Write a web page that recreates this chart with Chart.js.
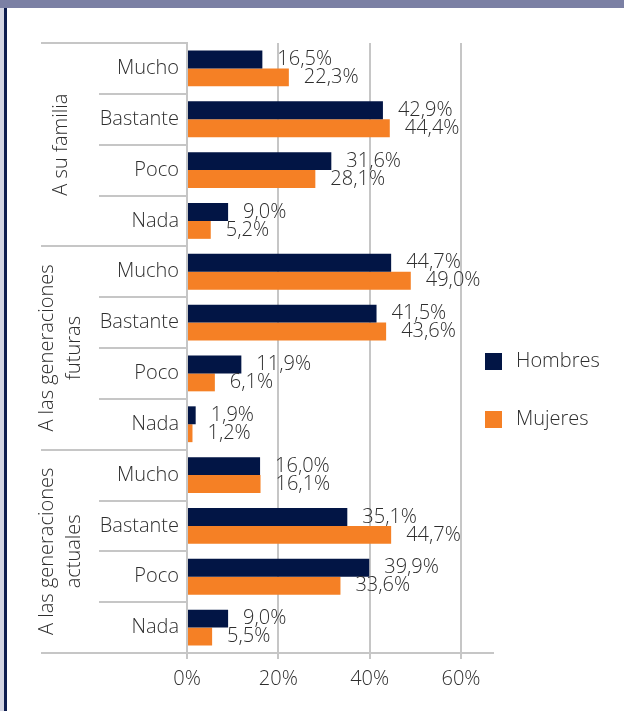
<!DOCTYPE html>
<html>
<head>
<meta charset="utf-8">
<script src="https://cdn.jsdelivr.net/npm/chart.js@4/dist/chart.umd.min.js"></script>
<style>
html,body{margin:0;padding:0;background:#ffffff;overflow:hidden;}
#wrap{position:absolute;left:0;top:0;width:624px;height:711px;}
</style>
</head>
<body>
<div id="wrap"><canvas id="c"></canvas></div>
<script>
// ---- data ----
const groups = [['A su familia'], ['A las generaciones', 'futuras'], ['A las generaciones', 'actuales']];
const levels = ['Mucho', 'Bastante', 'Poco', 'Nada'];
const categories = ['Mucho','Bastante','Poco','Nada','Mucho','Bastante','Poco','Nada','Mucho','Bastante','Poco','Nada'];
const hombres = [16.5, 42.9, 31.6, 9.0, 44.7, 41.5, 11.9, 1.9, 16.0, 35.1, 39.9, 9.0];
const mujeres = [22.3, 44.4, 28.1, 5.2, 49.0, 43.6, 6.1, 1.2, 16.1, 44.7, 33.6, 5.5];
const seriesNames = ['Hombres', 'Mujeres'];
const xTickValues = [0, 20, 40, 60];

const NAVY = '#021545';
const ORANGE = '#F58025';
const GRID = '#c6c6c6';
const TEXT = '#2e2e2e';
const FONT = '"Open Sans", "DejaVu Sans", sans-serif';
const WEIGHT = '300';

const fmt = v => v.toFixed(1).replace('.', ',') + '%';

const decoPlugin = {
  id: 'deco',
  beforeDraw(chart) {
    const ctx = chart.ctx;
    ctx.save();
    ctx.fillStyle = '#ffffff';
    ctx.fillRect(0, 0, chart.width, chart.height);
    ctx.fillStyle = '#d2d4e2';
    ctx.fillRect(0, 0, 4, chart.height);
    ctx.fillStyle = '#0d1c4e';
    ctx.fillRect(4, 0, 3, chart.height);
    ctx.fillStyle = '#7b80a4';
    ctx.fillRect(0, 0, chart.width, 8);
    ctx.restore();
  },
  afterDraw(chart) {
    const ctx = chart.ctx;
    const ys = chart.scales.y;
    const ca = chart.chartArea;
    const n = categories.length;
    const rowH = (ys.bottom - ys.top) / n;
    ctx.save();
    ctx.strokeStyle = GRID;
    ctx.lineWidth = 2;
    for (let i = 0; i <= n; i++) {
      const y = Math.round(ys.top + i * rowH);
      const x0 = (i % levels.length === 0) ? 41 : 99;
      ctx.beginPath();
      ctx.moveTo(x0, y);
      ctx.lineTo(ca.left, y);
      ctx.stroke();
    }
    // group labels
    ctx.fillStyle = TEXT;
    ctx.font = WEIGHT + ' 20px ' + FONT;
    ctx.textAlign = 'center';
    ctx.textBaseline = 'middle';
    groups.forEach((lines, g) => {
      const cy = ys.top + (g * levels.length + levels.length / 2) * rowH;
      const lh = 27;
      const cx0 = 61 - (lines.length - 1) * lh / 2;
      lines.forEach((t, k) => {
        ctx.save();
        ctx.translate(cx0 + k * lh, cy);
        ctx.rotate(-Math.PI / 2);
        ctx.fillText(t, 0, 0);
        ctx.restore();
      });
    });
    // legend
    chart.data.datasets.forEach((ds, i) => {
      const cy = 361.5 + i * 58;
      ctx.fillStyle = ds.backgroundColor;
      ctx.fillRect(485, cy - 8.5, 17, 17);
      ctx.fillStyle = TEXT;
      ctx.textAlign = 'left';
      ctx.fillText(ds.label, 516, cy);
    });
    ctx.restore();
  },
  afterDatasetsDraw(chart) {
    const ctx = chart.ctx;
    ctx.save();
    ctx.fillStyle = TEXT;
    ctx.font = WEIGHT + ' 20px ' + FONT;
    ctx.textAlign = 'left';
    ctx.textBaseline = 'middle';
    chart.data.datasets.forEach((ds, di) => {
      const meta = chart.getDatasetMeta(di);
      meta.data.forEach((el, i) => {
        ctx.fillText(fmt(ds.data[i]), el.x + 15, el.y);
      });
    });
    ctx.restore();
  }
};

new Chart(document.getElementById('c'), {
  type: 'bar',
  data: {
    labels: categories,
    datasets: [
      { label: seriesNames[0], data: hombres, backgroundColor: NAVY },
      { label: seriesNames[1], data: mujeres, backgroundColor: ORANGE }
    ]
  },
  options: {
    indexAxis: 'y',
    responsive: true,
    maintainAspectRatio: false,
    animation: false,
    devicePixelRatio: 1,
    layout: { padding: { top: 43, right: 131, bottom: 0, left: 0 } },
    datasets: { bar: { barPercentage: 1, categoryPercentage: 0.705 } },
    plugins: { legend: { display: false }, tooltip: { enabled: false } },
    scales: {
      x: {
        min: 0,
        max: 67,
        afterFit(s) { s.height = 58; },
        afterBuildTicks(s) { s.ticks = xTickValues.map(v => ({ value: v })); },
        ticks: {
          includeBounds: false,
          callback: v => v + '%',
          color: TEXT,
          font: { family: FONT, size: 20, weight: WEIGHT },
          padding: 8,
          maxRotation: 0
        },
        grid: { color: GRID, lineWidth: 2, tickLength: 6, drawTicks: true },
        border: { display: true, color: GRID, width: 2 }
      },
      y: {
        afterFit(s) { s.width = 187; },
        ticks: {
          color: TEXT,
          font: { family: FONT, size: 20, weight: WEIGHT },
          padding: 8,
          autoSkip: false
        },
        grid: { display: false, drawTicks: false },
        border: { display: true, color: GRID, width: 2 }
      }
    }
  },
  plugins: [decoPlugin]
});
</script>
</body>
</html>
